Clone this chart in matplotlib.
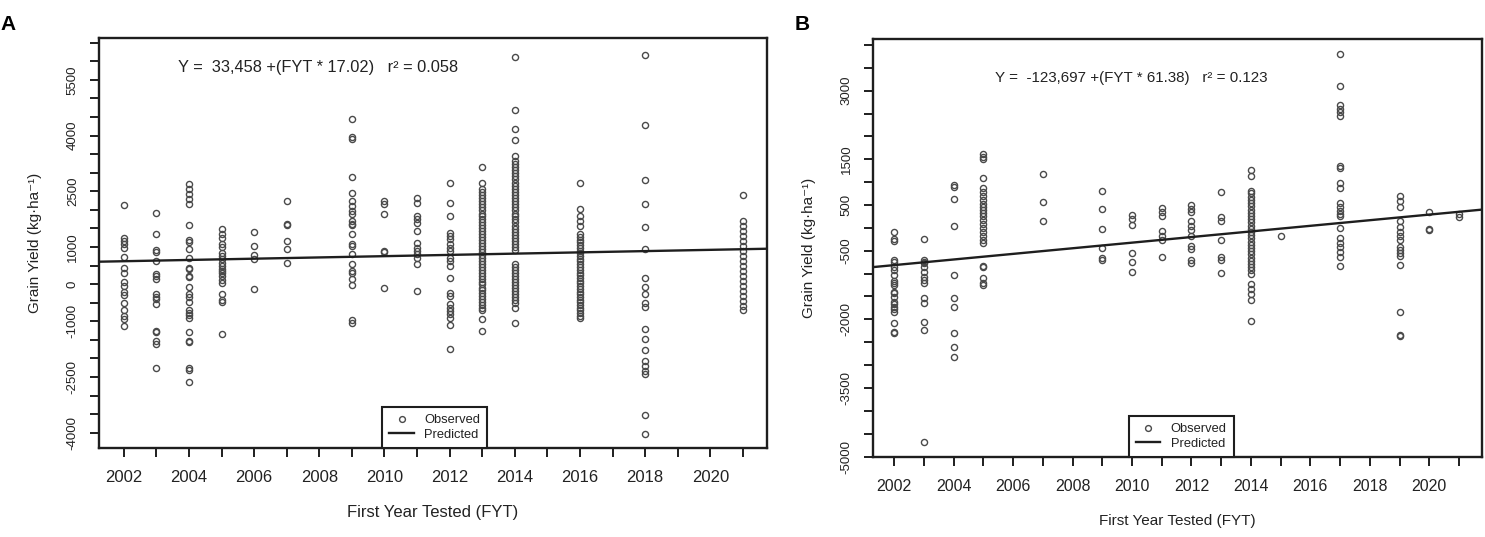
import matplotlib
matplotlib.use('Agg')
import matplotlib.pyplot as plt
from matplotlib.lines import Line2D
import numpy as np

plt.rcParams['font.family'] = ['Liberation Sans', 'DejaVu Sans']

# panel A: observed grain yield per first year tested
years_a = [2002, 2003, 2004, 2005, 2006, 2007, 2009, 2010, 2011, 2012, 2013, 2014, 2016, 2018, 2021]
yield_a = [
    [2132, 1246, 1164, 1083, 976, 734, 438, 304, 62, -46, -207, -288, -503, -691, -852, -933, -1121],
    [1916, 1352, 908, 868, 626, 277, 223, 142, -261, -341, -395, -530, -1255, -1282, -1524, -1605, -2250],
    [2696, 2562, 2427, 2293, 2158, 1594, 1191, 1137, 949, 707, 438, 411, 223, 196, -72, -261, -341,
     -476, -691, -772, -825, -906, -1282, -1524, -1551, -2250, -2304, -2626],
    [1486, 1352, 1245, 1083, 1003, 841, 761, 680, 573, 492, 411, 358, 304, 223, 116, 35, -261, -422,
     -476, -1336],
    [1406, 1030, 788, 680, -126],
    [2239, 1621, 1590, 1164, 949, 573],
    [4441, 3957, 3903, 2884, 2454, 2239, 2105, 1970, 1889, 1701, 1621, 1594, 1352, 1083, 1030, 815,
     546, 358, 304, 142, -19, -960, -1040],
    [2239, 2158, 1889, 895, 868, -99],
    [2320, 2185, 1836, 1755, 1648, 1433, 1110, 976, 895, 815, 707, 546, -180],
    [2723, 2185, 1836, 1379, 1298, 1218, 1083, 976, 895, 707, 626, 492, 169, -234, -314, -530, -637,
     -718, -798, -906, -1094, -1739],
    [3150, 2723, 2570, 2480, 2400, 2310, 2230, 2160, 2070, 1990, 1900, 1830, 1750, 1660, 1590, 1500,
     1420, 1340, 1270, 1180, 1100, 1030, 950, 860, 790, 700, 620, 540, 470, 380, 300, 230, 140, 60,
     -10, -100, -170, -250, -330, -400, -490, -560, -640, -710, -935, -1255],
    [6110, 4680, 4170, 3880, 3450, 3310, 3230, 3150, 3060, 2980, 2900, 2820, 2720, 2640, 2560, 2480,
     2400, 2320, 2230, 2150, 2070, 1990, 1900, 1820, 1740, 1660, 1570, 1490, 1410, 1330, 1250, 1170,
     1090, 1010, 930, 550, 470, 390, 310, 220, 140, 60, -30, -110, -190, -270, -350, -440, -520, -640,
     -1040],
    [2720, 2020, 1840, 1700, 1570, 1350, 1280, 1200, 1130, 1050, 980, 900, 830, 760, 680, 610, 540,
     460, 390, 310, 240, 170, 90, 20, -50, -130, -200, -270, -350, -420, -490, -560, -640, -710, -780,
     -850, -900],
    [6164, 4280, 2803, 2158, 1540, 949, 169, -72, -261, -503, -610, -1202, -1470, -1766, -2062, -2196,
     -2331, -2411, -3513, -4024],
    [2400, 1701, 1567, 1433, 1298, 1164, 1030, 895, 761, 626, 492, 358, 223, 89, -46, -180, -314, -449,
     -583, -691],
]
coef_a = (-33458, 17.02)
eq_a = 'Y =  33,458 +(FYT * 17.02)   r² = 0.058'

# panel B
years_b = [2002, 2003, 2004, 2005, 2007, 2009, 2010, 2011, 2012, 2013, 2014, 2015, 2017, 2019, 2020, 2021]
yield_b = [
    [-88, -241, -285, -700, -744, -854, -919, -1029, -1160, -1204, -1248, -1400, -1422, -1510, -1620,
     -1663, -1729, -1773, -1838, -2079, -2276, -2298],
    [-241, -700, -744, -766, -854, -963, -1073, -1138, -1204, -1532, -1641, -2057, -2232, -4685],
    [941, 897, 635, 44, -1029, -1532, -1729, -2298, -2604, -2823],
    [1620, 1555, 1511, 1095, 876, 788, 700, 613, 525, 460, 394, 328, 263, 175, 88, 0, -88, -175, -263,
     -328, -832, -854, -1095, -1204, -1248],
    [1182, 569, 153],
    [810, 416, -22, -438, -657, -700],
    [291, 193, 59, -541, -751, -970],
    [434, 344, 267, -70, -182, -256, -646],
    [508, 403, 344, 155, 44, -46, -182, -407, -466, -707, -767],
    [777, 230, 155, -272, -646, -707, -992],
    [1259, 1130, 808, 756, 681, 610, 540, 470, 400, 330, 260, 190, 120, 50, -20, -90, -160, -230, -300,
     -370, -440, -510, -580, -650, -720, -790, -860, -930, -1007, -1231, -1345, -1456, -1570, -2041],
    [-182],
    [3793, 3096, 2683, 2608, 2534, 2457, 1356, 1303, 981, 867, 554, 456, 359, 307, 254, 7, -219, -333,
     -422, -519, -646, -841],
    [703, 583, 456, 155, 28, -92, -182, -256, -422, -482, -556, -618, -819, -1831, -2341, -2372],
    [344, -18, -46],
    [307, 230],
]
coef_b = (-123697, 61.38)
eq_b = 'Y =  -123,697 +(FYT * 61.38)   r² = 0.123'

ylab_a = [-4000, -2500, -1000, 0, 1000, 2500, 4000, 5500]
ylab_b = [-5000, -3500, -2000, -500, 500, 1500, 3000]

ink = '#1e1e1e'
pt_col = '#4a4a4a'


def draw_panel(ax, years, groups, coef, eq, eq_xy, ylabs, yticks, xlim, ylim, leg_x, fs):
    for yr, vals in zip(years, groups):
        ax.plot([yr] * len(vals), vals, ls='none', marker='o', ms=4.4,
                mfc='none', mec=pt_col, mew=1.0)
    xs = np.array(xlim)
    ax.plot(xs, coef[0] + coef[1] * xs, color=ink, lw=1.7)
    ax.set_xlim(*xlim)
    ax.set_ylim(*ylim)

    ax.set_xticks(range(2002, 2022))
    ax.set_xticklabels([str(y) if y % 2 == 0 else '' for y in range(2002, 2022)],
                       fontsize=fs['tick'], color='#222222')
    ax.set_yticks(yticks)
    ax.set_yticklabels([str(v) if v in ylabs else '' for v in yticks],
                       rotation=90, va='center', fontsize=9.5, color='#222222')
    ax.tick_params(axis='x', direction='out', length=6.5, width=1.4, color=ink, pad=9)
    ax.tick_params(axis='y', direction='out', length=6.5, width=1.4, color=ink, pad=8)
    for sp in ax.spines.values():
        sp.set_linewidth(1.7)
        sp.set_color(ink)

    ax.set_xlabel('First Year Tested (FYT)', fontsize=fs['label'], labelpad=15, color='#222222')
    ax.set_ylabel('Grain Yield (kg·ha⁻¹)', fontsize=11, labelpad=18, color='#222222')
    ax.text(eq_xy[0], eq_xy[1], eq, fontsize=fs['eq'], ha='center', va='center', color='#222222')

    handles = [Line2D([], [], ls='none', marker='o', ms=4.2, mfc='none', mec=pt_col, mew=1.0),
               Line2D([], [], color=ink, lw=1.7)]
    leg = ax.legend(handles, ['Observed', 'Predicted'], loc='lower left',
                    bbox_to_anchor=(leg_x, 0.0), fontsize=9.3, frameon=True, fancybox=False,
                    handlelength=1.9, borderpad=0.55, labelspacing=0.2, borderaxespad=0,
                    handletextpad=0.8, framealpha=1)
    leg.get_frame().set_edgecolor(ink)
    leg.get_frame().set_linewidth(1.5)
    for t in leg.get_texts():
        t.set_color('#222222')


fig = plt.figure(figsize=(14.85, 5.37), dpi=100)
ax_a = fig.add_axes([0.06667, 0.16574, 0.44983, 0.76294])
ax_b = fig.add_axes([0.58788, 0.14898, 0.41010, 0.77840])

draw_panel(ax_a, years_a, yield_a, coef_a, eq_a, (2007.95, 5841), ylab_a,
           np.arange(-4000, 6501, 500), (2001.24, 2021.74), (-4412, 6617), 0.424,
           {'tick': 12, 'label': 12, 'eq': 11.8})
draw_panel(ax_b, years_b, yield_b, coef_b, eq_b, (2009.97, 3268), ylab_b,
           np.arange(-5000, 4001, 500), (2001.29, 2021.77), (-5010, 4130), 0.420,
           {'tick': 11.5, 'label': 11, 'eq': 10.9})

fig.text(0.0, 0.955, 'A', fontsize=15, fontweight='bold', va='center', ha='left')
fig.text(0.535, 0.955, 'B', fontsize=15, fontweight='bold', va='center', ha='left')

fig.savefig('out.png', dpi=100)
